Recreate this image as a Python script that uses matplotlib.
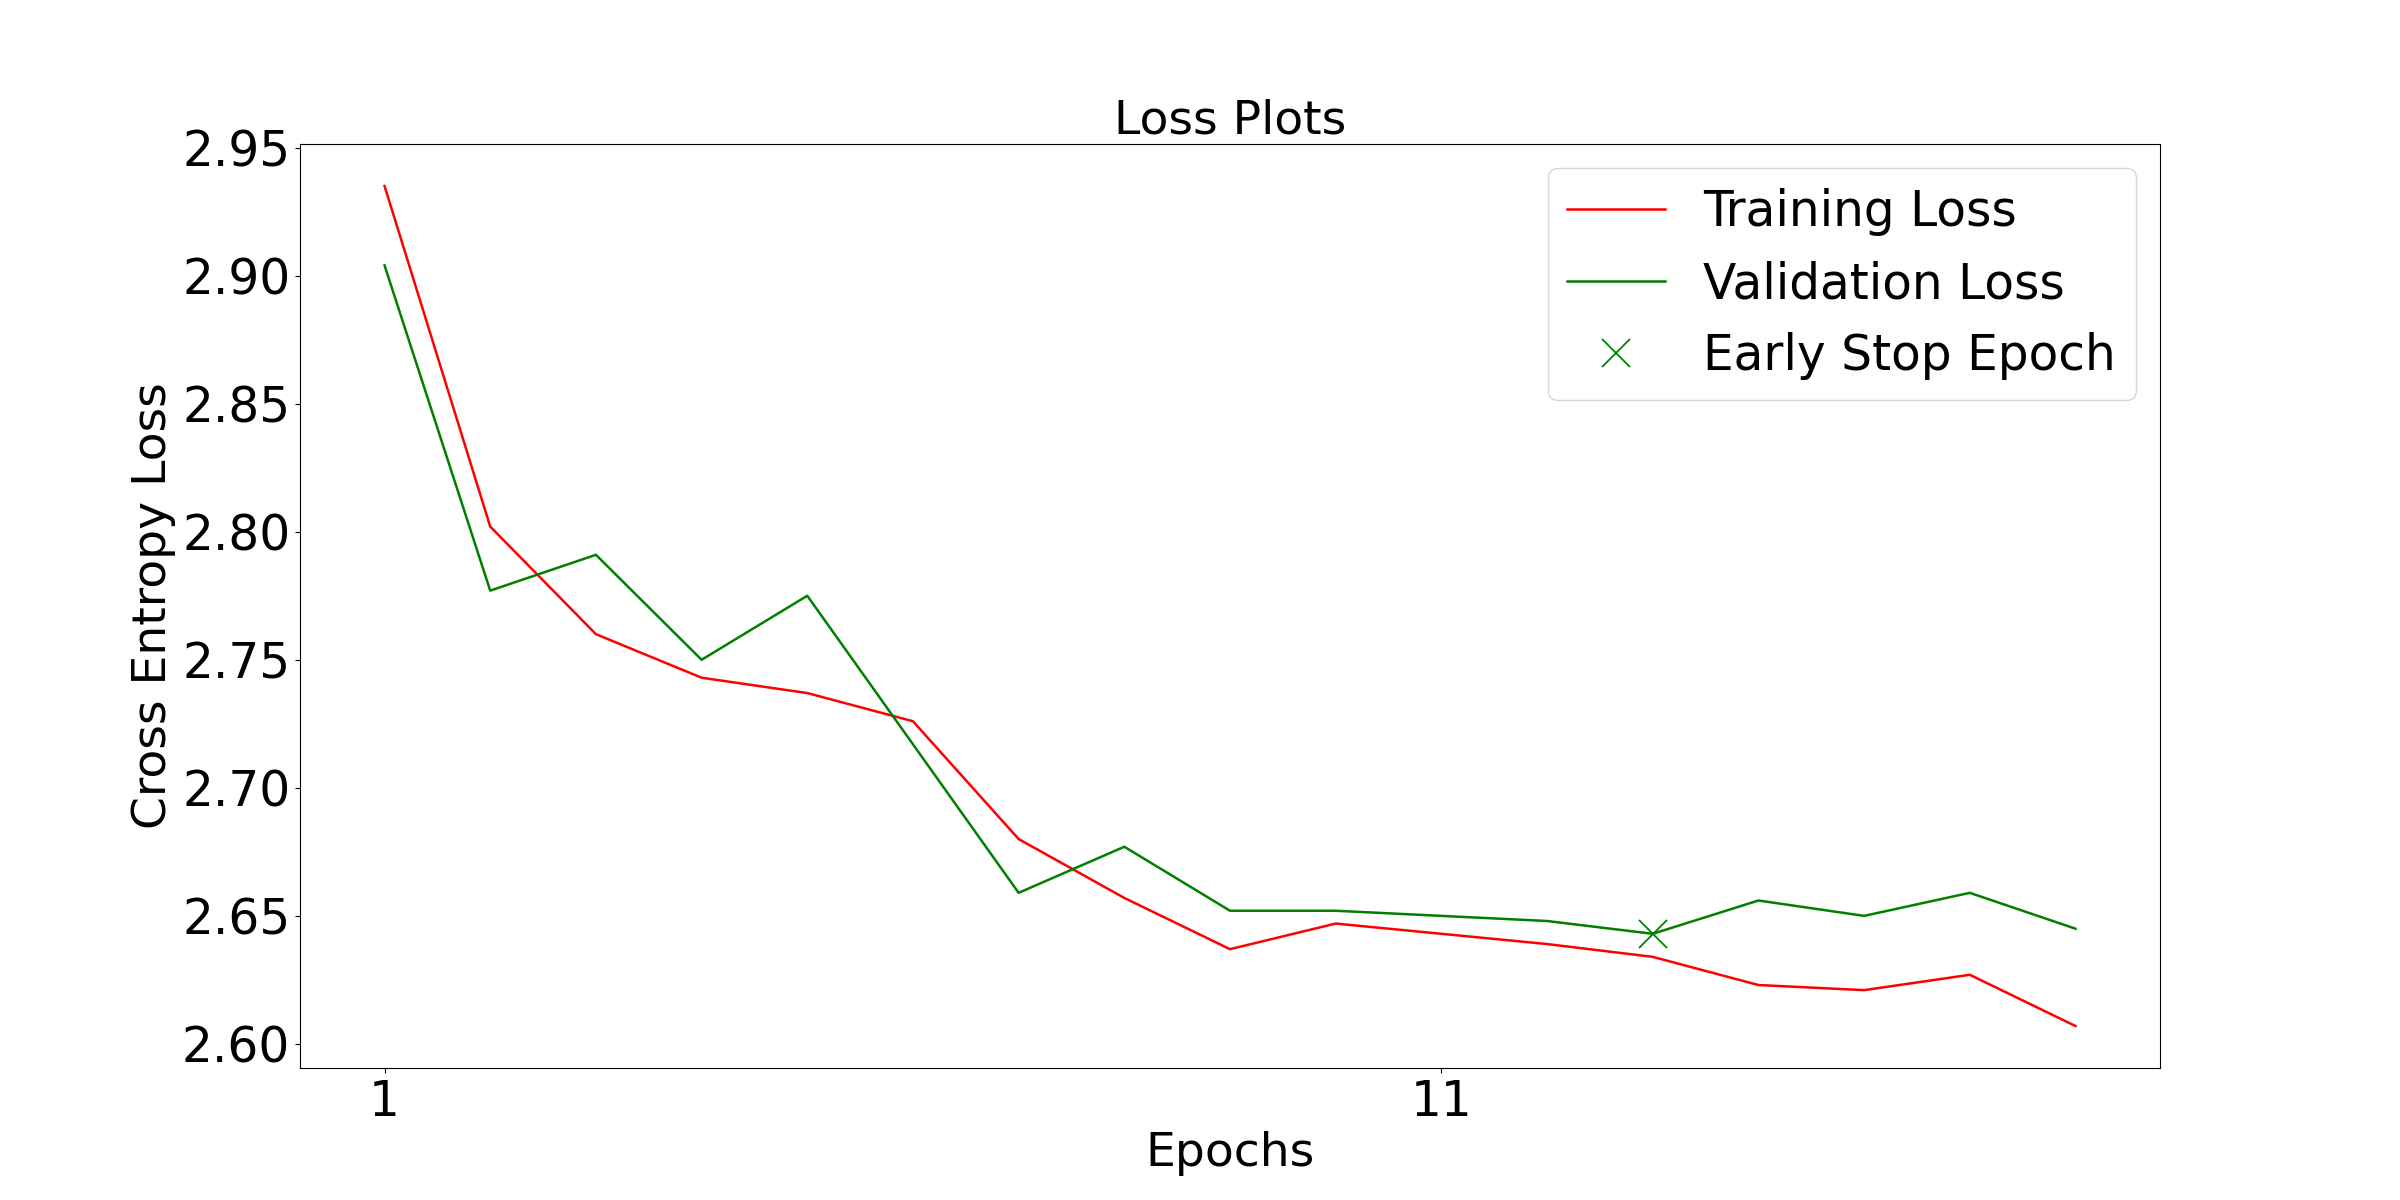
import matplotlib
matplotlib.use("Agg")
import matplotlib.pyplot as plt

epochs = list(range(1, 18))
train_loss = [2.935, 2.802, 2.760, 2.743, 2.737, 2.726, 2.680, 2.657, 2.637,
              2.647, 2.643, 2.639, 2.634, 2.623, 2.621, 2.627, 2.607]
val_loss = [2.904, 2.777, 2.791, 2.750, 2.775, 2.717, 2.659, 2.677, 2.652,
            2.652, 2.650, 2.648, 2.643, 2.656, 2.650, 2.659, 2.645]
early_stop_epoch = 13
xtick_values = [1, 11]

fig, ax = plt.subplots(figsize=(24, 12), dpi=100)
ax.plot(epochs, train_loss, color='red', linewidth=1.8, label='Training Loss')
ax.plot(epochs, val_loss, color='green', linewidth=1.8, label='Validation Loss')
# early stopping point sits on the validation curve
ax.plot(early_stop_epoch, val_loss[epochs.index(early_stop_epoch)], 'x',
        color='green', markersize=20, markeredgewidth=1.3, label='Early Stop Epoch')

ax.set_xticks(xtick_values)
ax.tick_params(labelsize=35)
ax.set_xlabel('Epochs', fontsize=34)
ax.set_ylabel('Cross Entropy Loss', fontsize=34)
ax.set_title('Loss Plots', fontsize=34)
ax.legend(loc='upper right', fontsize=35)

fig.savefig('out.png')
